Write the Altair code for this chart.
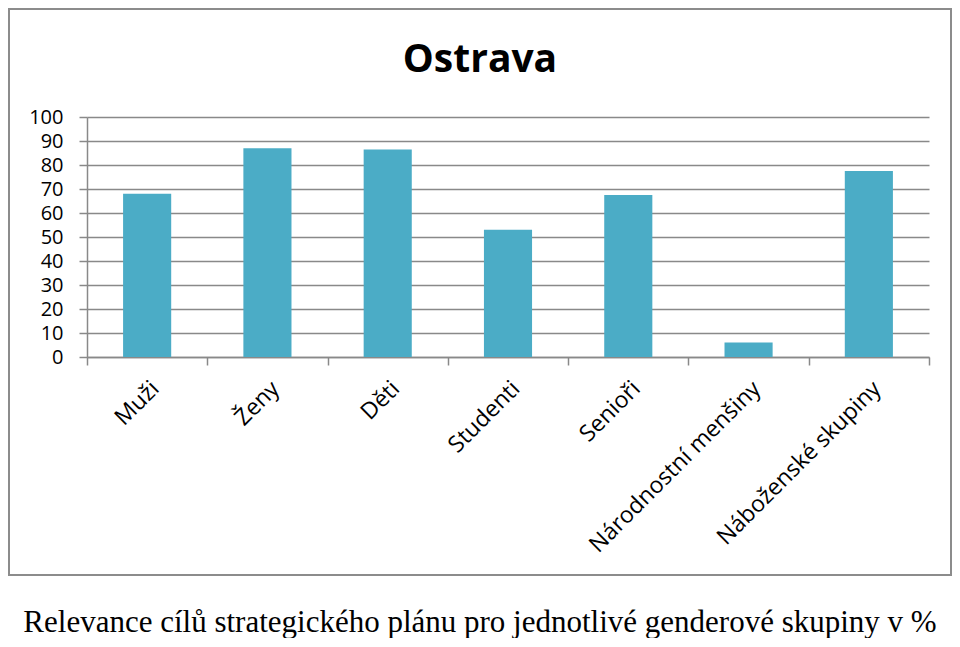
import altair as alt
import pandas as pd

categories = ["Muži", "Ženy", "Děti", "Studenti", "Senioři",
              "Národnostní menšiny", "Náboženské skupiny"]
values = [68, 87, 86.5, 53, 67.5, 6, 77.5]
y_ticks = [0, 10, 20, 30, 40, 50, 60, 70, 80, 90, 100]
title_text = "Ostrava"
caption_text = "Relevance cílů strategického plánu pro jednotlivé genderové skupiny v %"

df = pd.DataFrame({"skupina": categories, "hodnota": values})

W, H = 842, 240
GRID = "#898989"
BAR = "#4BACC6"

x_enc = alt.X(
    "skupina:N", sort=categories,
    scale=alt.Scale(paddingInner=0, paddingOuter=0),
    axis=alt.Axis(title=None, labelAngle=315, tickBand="extent", ticks=True,
                  tickSize=8, tickColor=GRID, tickWidth=1.5,
                  domainColor=GRID, domainWidth=1.5, grid=False,
                  labelFont="Open Sans", labelFontSize=23, labelColor="black",
                  labelPadding=12, labelOverlap=False, labelLimit=400),
)
y_enc = alt.Y(
    "hodnota:Q", scale=alt.Scale(domain=[0, 100]),
    axis=alt.Axis(title=None, values=y_ticks, grid=True, gridColor=GRID,
                  gridWidth=1.5, tickSize=8, tickColor=GRID, tickWidth=1.5,
                  domainColor=GRID, domainWidth=1.5,
                  labelFont="Open Sans", labelFontSize=20, labelColor="black",
                  labelPadding=16, labelOverlap=False, labelFlush=False),
)

bars = alt.Chart(df).mark_bar(color=BAR, width=alt.RelativeBandSize(0.4)).encode(
    x=x_enc, y=y_enc
)

one = pd.DataFrame({"k": [0]})

frame = alt.Chart(one).mark_rect(fillOpacity=0, stroke="#8c8c8c", strokeWidth=2).encode(
    x=alt.value(-78), x2=alt.value(864), y=alt.value(-108), y2=alt.value(458)
)

title_mark = alt.Chart(one).mark_text(
    text=title_text, font="Open Sans", fontSize=39, fontWeight="bold",
    color="black", align="center", baseline="alphabetic"
).encode(x=alt.value(393), y=alt.value(-45))

caption_mark = alt.Chart(one).mark_text(
    text=caption_text, font="Liberation Serif", fontSize=31,
    color="black", align="center", baseline="alphabetic"
).encode(x=alt.value(393), y=alt.value(515))

chart = alt.layer(frame, bars, title_mark, caption_mark).properties(
    width=W, height=H,
    padding={"left": 0, "top": 0, "right": 0, "bottom": 0},
).configure_view(stroke=None)

chart.save("out.html", embed_options={"renderer": "svg", "actions": False})
